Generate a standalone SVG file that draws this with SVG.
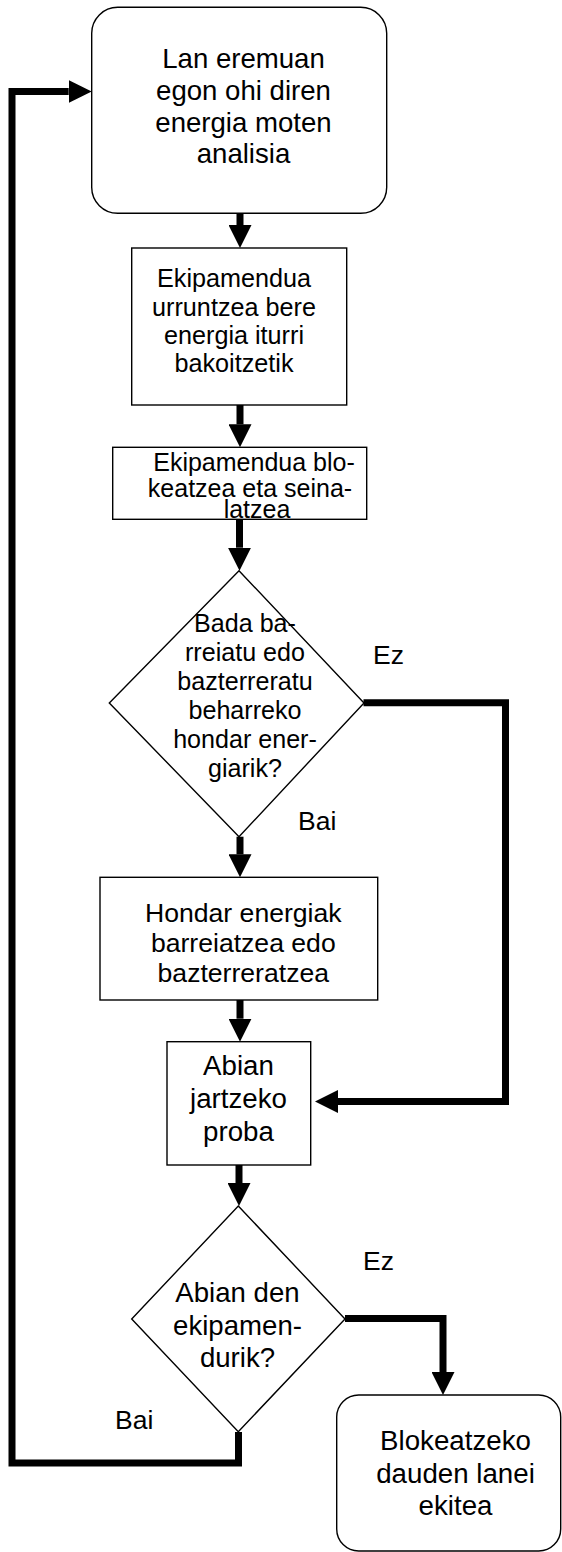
<svg xmlns="http://www.w3.org/2000/svg" width="562" height="1552" viewBox="0 0 562 1552">
<style>
.box{fill:#fff;stroke:#000;stroke-width:1.4}
.conn{fill:none;stroke:#000;stroke-width:7;stroke-linejoin:miter;stroke-linecap:butt}
text{font-family:"Liberation Sans",Arial,sans-serif;fill:#000;text-anchor:middle}
.lbl{font-size:26.5px;text-anchor:start}
</style>
<defs>
<marker id="ah" markerUnits="userSpaceOnUse" markerWidth="23" markerHeight="23" refX="0" refY="11.5" orient="auto" viewBox="0 0 23 23">
<path d="M0,0 L23,11.5 L0,23 z" fill="#000"/>
</marker>
</defs>
<rect x="0" y="0" width="562" height="1552" fill="#fff"/>
<g id="connectors">
<path class="conn" d="M240,213 V225" marker-end="url(#ah)"/>
<path class="conn" d="M240,405 V424.3" marker-end="url(#ah)"/>
<path class="conn" d="M239.5,519.3 V547.7" marker-end="url(#ah)"/>
<path class="conn" d="M240,836.7 V854.3" marker-end="url(#ah)"/>
<path class="conn" d="M240,1000 V1018.7" marker-end="url(#ah)"/>
<path class="conn" d="M239,1165 V1183" marker-end="url(#ah)"/>
<path class="conn" d="M363.5,702.7 H505.5 V1101.5 H338" marker-end="url(#ah)"/>
<path class="conn" d="M345,1318.5 H443 V1372" marker-end="url(#ah)"/>
<path class="conn" d="M238.5,1432 V1463 H12 V91.5 H68.7" marker-end="url(#ah)"/>
</g>
<g id="n1">
<rect class="box" x="91.7" y="7.3" width="295" height="206" rx="26" ry="26"/>
<text font-size="27.6" x="243.5" y="68">Lan eremuan</text>
<text font-size="27.6" x="243.5" y="99.8">egon ohi diren</text>
<text font-size="27.6" x="243.5" y="131.6">energia moten</text>
<text font-size="27.6" x="243.5" y="163.4">analisia</text>
</g>
<g id="n2">
<rect class="box" x="131.7" y="248" width="215" height="157"/>
<text font-size="25.2" x="234" y="287">Ekipamendua</text>
<text font-size="25.2" x="234" y="315.5">urruntzea bere</text>
<text font-size="25.2" x="234" y="344">energia iturri</text>
<text font-size="25.2" x="234" y="372">bakoitzetik</text>
</g>
<g id="n3">
<rect class="box" x="112.7" y="447.3" width="254" height="72"/>
<text font-size="25" x="254" y="471">Ekipamendua blo-</text>
<text font-size="25" x="250" y="497">keatzea eta seina-</text>
<text font-size="25" x="257" y="517.5">latzea</text>
</g>
<g id="d1">
<polygon class="box" points="239,570.7 364,703 239,836.7 109.3,703"/>
<text font-size="25.1" x="245" y="631.7">Bada ba-</text>
<text font-size="25.1" x="245" y="660.7">rreiatu edo</text>
<text font-size="25.1" x="245" y="690">bazterreratu</text>
<text font-size="25.1" x="245" y="719">beharreko</text>
<text font-size="25.1" x="245" y="748.3">hondar ener-</text>
<text font-size="25.1" x="245" y="776.7">giarik?</text>
</g>
<g id="lbl-d1">
<text class="lbl" x="373" y="664">Ez</text>
<text class="lbl" x="298" y="830">Bai</text>
</g>
<g id="n4">
<rect class="box" x="100" y="877.3" width="277.7" height="122.7"/>
<text font-size="26.6" x="243.3" y="921.5">Hondar energiak</text>
<text font-size="26.6" x="243.3" y="951.5">barreiatzea edo</text>
<text font-size="26.6" x="243.3" y="981.5">bazterreratzea</text>
</g>
<g id="n5">
<rect class="box" x="167" y="1041.7" width="143.7" height="123.3"/>
<text font-size="27.7" x="238.5" y="1075">Abian</text>
<text font-size="27.7" x="238.5" y="1108">jartzeko</text>
<text font-size="27.7" x="238.5" y="1140.5">proba</text>
</g>
<g id="d2">
<polygon class="box" points="238.3,1206 345,1319 238.3,1431.7 131.7,1319"/>
<text font-size="27.6" x="237.5" y="1302">Abian den</text>
<text font-size="27.6" x="237.5" y="1334.5">ekipamen-</text>
<text font-size="27.6" x="237.5" y="1367">durik?</text>
</g>
<g id="lbl-d2">
<text class="lbl" x="363" y="1270">Ez</text>
<text class="lbl" x="115" y="1429">Bai</text>
</g>
<g id="n6">
<rect class="box" x="336.7" y="1395" width="224" height="156" rx="22" ry="22"/>
<text font-size="27.7" x="455.5" y="1450">Blokeatzeko</text>
<text font-size="27.7" x="455.5" y="1482.5">dauden lanei</text>
<text font-size="27.7" x="455.5" y="1515">ekitea</text>
</g>
</svg>
